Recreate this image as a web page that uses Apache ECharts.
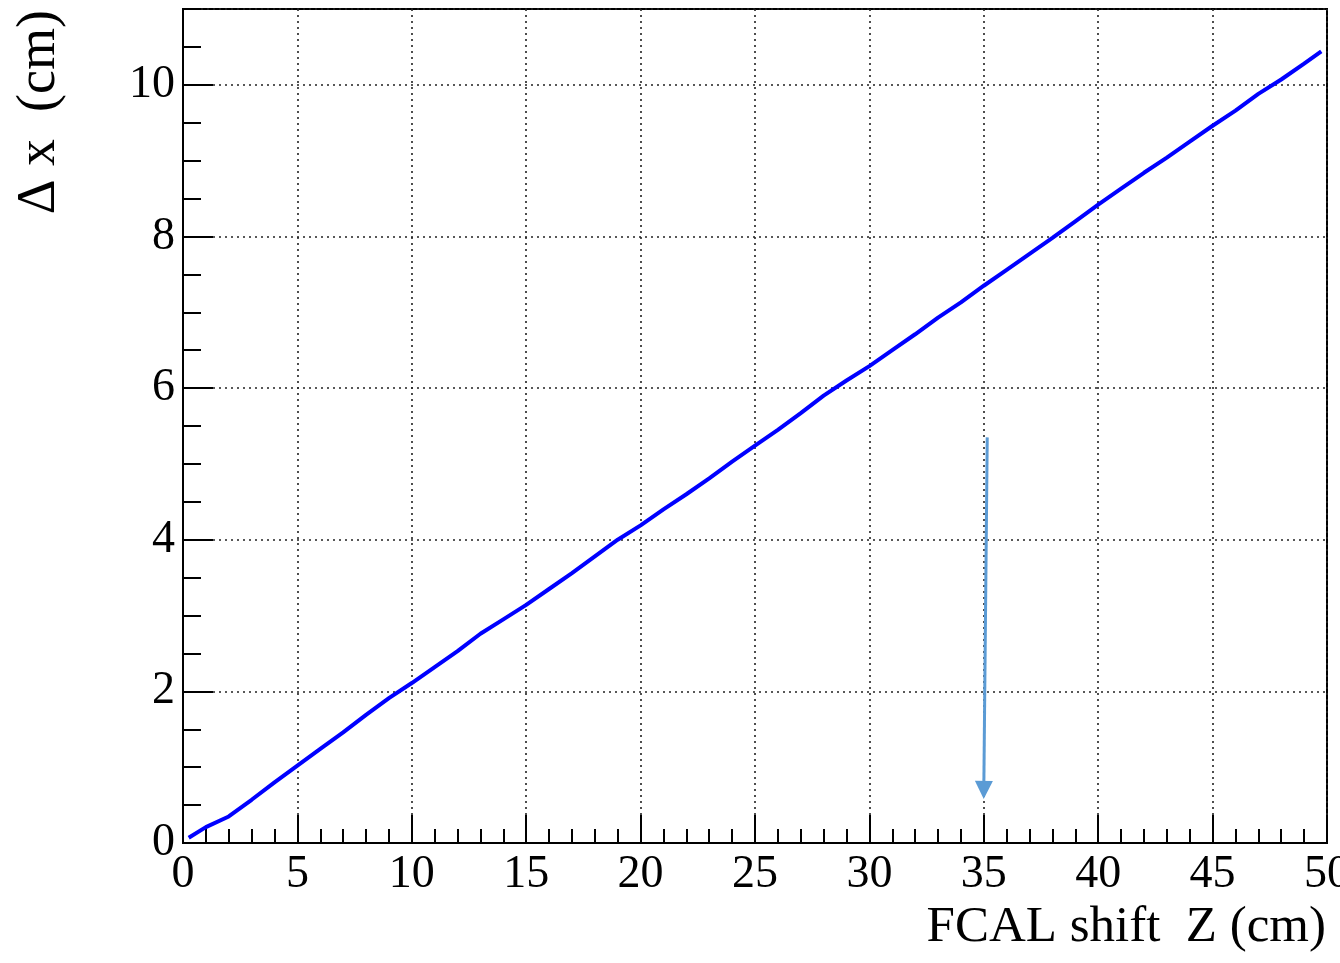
<!DOCTYPE html>
<html>
<head>
<meta charset="utf-8">
<script src="https://cdn.jsdelivr.net/npm/echarts@6/dist/echarts.min.js"></script>
<style>
html,body{margin:0;padding:0;background:#fff;}
#chart{width:1340px;height:963px;}
</style>
</head>
<body>
<div id="chart"></div>
<script>
// FCAL shift Z (cm)
var shiftZ = [0.25, 1, 2, 3, 4, 5, 6, 7, 8, 9, 10, 11, 12, 13, 14, 15, 16, 17, 18, 19, 20,
  21, 22, 23, 24, 25, 26, 27, 28, 29, 30, 31, 32, 33, 34, 35, 36, 37, 38, 39, 40,
  41, 42, 43, 44, 45, 46, 47, 48, 49, 49.75];
// Delta x (cm)
var deltaX = [0.07, 0.21, 0.35, 0.57, 0.80, 1.02, 1.24, 1.46, 1.69, 1.91, 2.11, 2.32, 2.53, 2.76, 2.95, 3.14, 3.35, 3.56, 3.78, 4.00, 4.19,
  4.40, 4.60, 4.81, 5.03, 5.24, 5.45, 5.67, 5.90, 6.10, 6.29, 6.50, 6.71, 6.93, 7.13, 7.35, 7.56, 7.77, 7.98, 8.20, 8.42,
  8.63, 8.84, 9.04, 9.25, 9.46, 9.66, 9.88, 10.07, 10.28, 10.44];
// annotation arrow (data coordinates): start and end
var arrowStart = [35.15, 5.35];
var arrowEnd = [35.0, 0.70];

var xTitle = 'FCAL shift  Z (cm)';
var yTitle = '\u0394 x  (cm)';

var serif = '"Liberation Serif", "DejaVu Serif", serif';
var lineData = shiftZ.map(function (z, i) { return [z, deltaX[i]]; });

var dotted = { color: '#222', width: 1.6, type: [2, 4] };

var chart = echarts.init(document.getElementById('chart'), null, { renderer: 'canvas' });
chart.setOption({
  animation: false,
  backgroundColor: '#fff',
  grid: {
    left: 183, right: 13, top: 9, bottom: 120,
    outerBoundsMode: 'none', containLabel: false,
    show: true, borderColor: '#000', borderWidth: 2, backgroundColor: 'transparent'
  },
  xAxis: {
    type: 'value', min: 0, max: 50, interval: 5,
    name: xTitle, nameLocation: 'end', nameGap: -1,
    nameTextStyle: {
      fontFamily: serif, fontSize: 51, color: '#000',
      align: 'right', verticalAlign: 'top', padding: [59, 0, 0, 0]
    },
    axisLine: { show: true, onZero: false, lineStyle: { color: '#000', width: 2 } },
    axisTick: { show: true, inside: true, length: 28, lineStyle: { color: '#000', width: 2 } },
    minorTick: { show: true, splitNumber: 5, length: 14, lineStyle: { color: '#000', width: 2 } },
    splitLine: { show: true, lineStyle: dotted },
    axisLabel: { fontFamily: serif, fontSize: 46, color: '#000', margin: 9, showMaxLabel: true, hideOverlap: false }
  },
  yAxis: [{
    type: 'value', min: 0, max: 11, interval: 2, position: 'left',
    name: yTitle, nameLocation: 'end', nameGap: -1, nameRotate: 90,
    nameTextStyle: {
      fontFamily: serif, fontSize: 54, color: '#000',
      align: 'right', verticalAlign: 'bottom', padding: [0, 0, 116, 0]
    },
    axisLine: { show: true, onZero: false, lineStyle: { color: '#000', width: 2 } },
    axisTick: { show: true, inside: true, length: 30, lineStyle: { color: '#000', width: 2 } },
    splitLine: { show: true, lineStyle: dotted },
    axisLabel: { fontFamily: serif, fontSize: 46, color: '#000', margin: 8, showMaxLabel: false }
  }, {
    type: 'value', min: 0, max: 11, interval: 0.5, position: 'left', offset: 0,
    axisLine: { show: false },
    axisTick: { show: true, inside: true, length: 18, lineStyle: { color: '#000', width: 2 } },
    splitLine: { show: false },
    axisLabel: { show: false }
  }],
  series: [{
    type: 'line',
    xAxisIndex: 0, yAxisIndex: 0,
    data: lineData,
    showSymbol: false,
    symbol: 'none',
    lineStyle: { color: '#0000ff', width: 4 },
    z: 3,
    markLine: {
      silent: true,
      symbol: ['none', 'triangle'],
      symbolSize: [18, 18],
      label: { show: false },
      lineStyle: { color: '#5b9bd5', width: 3, type: 'solid' },
      data: [[{ coord: arrowStart }, { coord: arrowEnd }]]
    }
  }]
});
</script>
</body>
</html>
